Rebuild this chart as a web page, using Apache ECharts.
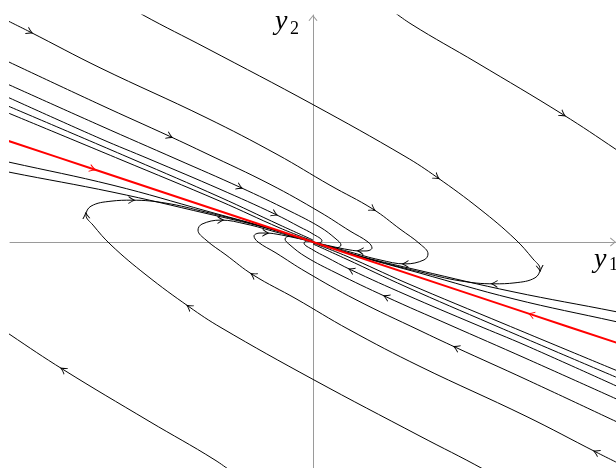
<!DOCTYPE html>
<html>
<head>
<meta charset="utf-8">
<script src="https://cdn.jsdelivr.net/npm/echarts@6/dist/echarts.min.js"></script>
<style>
  html, body { margin: 0; padding: 0; background: #fff; }
  #chart { width: 616px; height: 468px; }
</style>
</head>
<body>
<div id="chart"></div>
<script>
// Phase plane of a linear system with a repeated (defective) eigenvalue.
// Plot units: x runs -303..303, y runs -227..228.

// Straight-line solutions along the eigenvector (red), both halves run into the origin.
const eigenLeft  = [[-330, 110], [-220, 73.3], [0, 0]];
const eigenRight = [[330, -110], [218, -72.7], [0, 0]];
const eigenArrows = [1];

// Trajectories above the eigen-line, listed in the direction of motion.
const trajU1 = [[72, 238], [98, 219], [164, 180], [250, 128], [303, 93], [327, 76]];
const trajU2 = [[-183, 237], [-170, 228], [-107, 195], [0, 138], [92, 86], [124, 65], [167, 33], [202, 3], [220, -17], [227, -27], [222, -36], [202, -41], [181, -42], [147, -39], [107, -30], [67, -20], [37, -11.5], [17, -5.5], [0, 0]];
const trajLa = [[-313, 226], [-283, 211], [-213, 175], [-107, 125], [-36, 88], [17, 57], [60, 33], [87, 13], [107, -2], [115, -12], [111, -18], [92, -22], [67, -18], [37, -10], [17, -4.5], [0, 0]];
const trajLb = [[-313, 185], [-213, 138], [-143, 106], [-107, 89], [-43, 58], [7, 30], [37, 11], [55, 0], [59, -6], [53, -9], [47, -9], [37, -8], [17, -4], [0, 0]];
const trajLc = [[-313, 162], [-213, 117], [-136, 83], [-73, 55], [-23, 31], [7, 15], [23, 3], [28, -3], [23, -6], [12, -4], [0, 0]];
const trajLd = [[-313, 149], [-213, 104], [-163, 83], [-93, 53], [-38, 28], [-13, 15], [0, 8], [9, 1], [5, -1], [0, 0]];
const trajLe = [[-313, 140], [-180, 83], [-93, 45], [-33, 17], [0, 2]];
const trajLf = [[-313, 133], [-193, 83], [-93, 41], [-33, 14], [0, 1]];
const trajR1 = [[330, -76], [303, -70], [200, -50], [106, -28.5], [50, -15], [0, 0]];
const trajR2 = [[330, -86], [303, -80], [200, -57], [106, -31], [50, -15.5], [0, 0]];

// Trajectories below the eigen-line, listed in the direction of motion.
const trajD1 = [[-72, -238], [-98, -219], [-164, -180], [-250, -128], [-303, -93], [-327, -76]];
const trajD2 = [[183, -237], [170, -228], [107, -195], [0, -138], [-92, -86], [-124, -65], [-167, -33], [-202, -3], [-220, 17], [-227, 27], [-222, 36], [-202, 41], [-181, 42], [-147, 39], [-107, 30], [-67, 20], [-37, 11.5], [-17, 5.5], [0, 0]];
const trajDa = [[313, -226], [283, -211], [213, -175], [107, -125], [36, -88], [-17, -57], [-60, -33], [-87, -13], [-107, 2], [-115, 12], [-111, 18], [-92, 22], [-67, 18], [-37, 10], [-17, 4.5], [0, 0]];
const trajDb = [[313, -185], [213, -138], [143, -106], [107, -89], [43, -58], [-7, -30], [-37, -11], [-55, 0], [-59, 6], [-53, 9], [-47, 9], [-37, 8], [-17, 4], [0, 0]];
const trajDc = [[313, -162], [213, -117], [136, -83], [73, -55], [23, -31], [-7, -15], [-23, -3], [-28, 3], [-23, 6], [-12, 4], [0, 0]];
const trajDd = [[313, -149], [213, -104], [163, -83], [93, -53], [38, -28], [13, -15], [0, -8], [-9, -1], [-5, 1], [0, 0]];
const trajDe = [[313, -140], [180, -83], [93, -45], [33, -17], [0, -2]];
const trajDf = [[313, -133], [193, -83], [93, -41], [33, -14], [0, -1]];
const trajS1 = [[-330, 76], [-303, 70], [-200, 50], [-106, 28.5], [-50, 15], [0, 0]];
const trajS2 = [[-330, 86], [-303, 80], [-200, 57], [-106, 31], [-50, 15.5], [0, 0]];

// Which vertices of each trajectory carry a direction arrow.
const blackCurves = [
  [trajU1, [3]], [trajU2, [5, 9, 12]], [trajLa, [1, 6, 11]], [trajLb, [2, 10]],
  [trajLc, [3]], [trajLd, [4]], [trajLe, []], [trajLf, []], [trajR1, []], [trajR2, []],
  [trajD1, [3]], [trajD2, [5, 9, 12]], [trajDa, [1, 6, 11]], [trajDb, [2, 10]],
  [trajDc, [3]], [trajDd, [4]], [trajDe, []], [trajDf, []], [trajS1, []], [trajS2, []]
];

// Thin open arrow head pointing along +x.
const ARROW = 'path://M0,0 Q4,2.6 8,4 Q4,5.4 0,8 L0,6.9 Q3,5 5.6,4 Q3,3 0,1.1 Z';
// Thin chevron pointing up, used at the axis ends.
const AXIS_ARROW = 'path://M0,6 L5,0 L10,6 L9,6.6 L5,1.6 L1,6.6 Z';

function toSeries(points, arrows, color, width) {
  const data = points.map(function (p, i) {
    if (arrows.indexOf(i) < 0) return { value: p, symbol: 'none' };
    const a = points[Math.max(i - 1, 0)];
    const b = points[Math.min(i + 1, points.length - 1)];
    const ang = Math.atan2(b[1] - a[1], b[0] - a[0]) * 180 / Math.PI;
    return { value: p, symbol: ARROW, symbolSize: [7, 8], symbolRotate: ang };
  });
  return {
    type: 'line',
    data: data,
    smooth: 0.4,
    showSymbol: true,
    silent: true,
    animation: false,
    lineStyle: { color: color, width: width },
    itemStyle: { color: color, borderWidth: 0 },
    emphasis: { disabled: true },
    z: color === '#000' ? 2 : 3
  };
}

const series = blackCurves.map(function (c) { return toSeries(c[0], c[1], '#000', 1); });
series.push(toSeries(eigenLeft, eigenArrows, '#ff0000', 2));
series.push(toSeries(eigenRight, eigenArrows, '#ff0000', 2));

const axisCommon = {
  type: 'value',
  axisLine: {
    show: true, onZero: true,
    lineStyle: { color: '#9a9a9a', width: 1 },
    symbol: ['none', AXIS_ARROW],
    symbolSize: [9, 6],
    symbolOffset: [0, -3]
  },
  axisTick: { show: false },
  axisLabel: { show: false },
  splitLine: { show: false }
};

// Axis names: italic y with an upright subscript.
const nameItalic = { fontFamily: 'Liberation Serif', fontStyle: 'italic', fontSize: 28, fill: '#000' };
const nameSub = { fontFamily: 'Liberation Serif', fontSize: 18, fill: '#000' };

const chart = echarts.init(document.getElementById('chart'), null, { renderer: 'canvas' });
chart.setOption({
  animation: false,
  backgroundColor: '#fff',
  grid: { left: 10, top: 15, width: 606, height: 455 },
  xAxis: Object.assign({}, axisCommon, { min: -303, max: 303 }),
  yAxis: Object.assign({}, axisCommon, { min: -227, max: 228 }),
  series: series,
  graphic: [
    { type: 'text', x: 275, y: 8, style: Object.assign({ text: 'y' }, nameItalic) },
    { type: 'text', x: 290, y: 20, style: Object.assign({ text: '2' }, nameSub) },
    { type: 'text', x: 594, y: 246, style: Object.assign({ text: 'y' }, nameItalic) },
    { type: 'text', x: 609, y: 256, style: Object.assign({ text: '1' }, nameSub) }
  ]
});
</script>
</body>
</html>
